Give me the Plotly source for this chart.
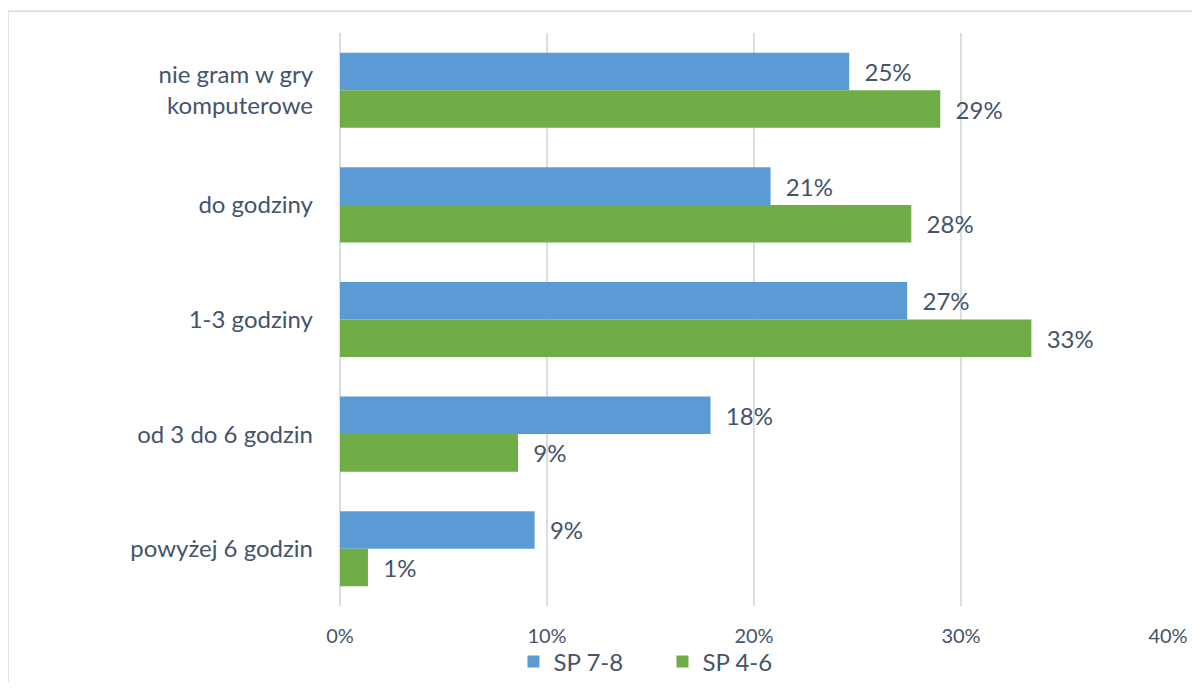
import plotly.graph_objects as go

# Categories, top to bottom
categories = [
    "nie gram w gry<br>komputerowe",
    "do godziny",
    "1-3 godziny",
    "od 3 do 6 godzin",
    "powyżej 6 godzin",
]

# Shares (fractions)
sp_7_8 = [0.246, 0.208, 0.274, 0.179, 0.094]
sp_4_6 = [0.290, 0.276, 0.334, 0.086, 0.0135]

series_names = ["SP 7-8", "SP 4-6"]
colors = ["#5B9BD5", "#70AD47"]
text_color = "#44546A"
font_family = "Lato, Open Sans, sans-serif"

fig = go.Figure()

for name, values, color in zip(series_names, [sp_7_8, sp_4_6], colors):
    fig.add_trace(
        go.Bar(
            y=categories,
            x=values,
            name=name,
            orientation="h",
            marker=dict(color=color, line=dict(width=0)),
            texttemplate="  %{x:.0%}",
            textposition="outside",
            textfont=dict(size=24, color=text_color, family=font_family),
            cliponaxis=False,
        )
    )

# the page body has an 8px margin, so the figure is sized to fit inside it
fig.update_layout(
    barmode="group",
    bargap=0.345,
    bargroupgap=0,
    width=1184,
    height=674,
    paper_bgcolor="white",
    plot_bgcolor="white",
    margin=dict(l=332, r=24, t=25, b=76, autoexpand=False),
    font=dict(family=font_family, size=20, color=text_color),
    showlegend=True,
    legend=dict(
        orientation="h",
        x=0.2095,
        xanchor="left",
        yref="container",
        y=0.03,
        yanchor="middle",
        bgcolor="rgba(0,0,0,0)",
        font=dict(size=24, color=text_color),
        entrywidth=104,
        traceorder="normal",
    ),
    xaxis=dict(
        range=[0, 0.4],
        tickformat=".0%",
        dtick=0.1,
        showgrid=True,
        gridcolor="#D9DEE5",
        gridwidth=1.5,
        zeroline=True,
        zerolinecolor="#D9DEE5",
        zerolinewidth=1.5,
        showline=False,
        ticks="",
        ticklabelstandoff=16,
        tickfont=dict(size=20),
        automargin=False,
    ),
    yaxis=dict(
        autorange="reversed",
        showgrid=False,
        zeroline=False,
        showline=False,
        ticks="",
        ticklabelstandoff=26,
        tickfont=dict(size=24),
        automargin=False,
    ),
)

# Light chart frame like the original
fig.add_shape(
    type="rect",
    xref="paper",
    yref="paper",
    x0=-0.401,
    x1=1.06,
    y0=-0.2,
    y1=1.038,
    line=dict(color="#D9D9D9", width=1.5),
    fillcolor="rgba(0,0,0,0)",
    layer="below",
)

fig.write_html("out.html")
